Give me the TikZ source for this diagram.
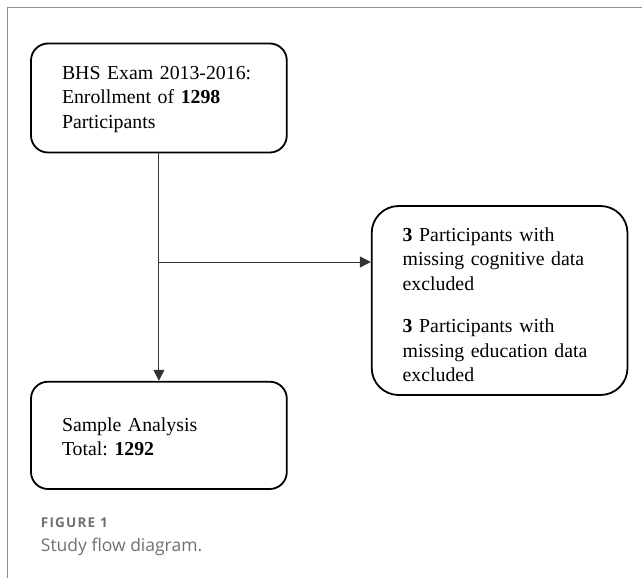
\documentclass[tikz,border=0pt]{standalone}
\usepackage{fontspec}
\setmainfont{Liberation Serif}
\newfontfamily\capfont{Open Sans}
\newfontfamily\capfontsp[LetterSpace=9]{Open Sans}
\usetikzlibrary{arrows.meta}
\definecolor{framegray}{HTML}{8C8C8C}
\definecolor{capgray}{HTML}{707070}
\definecolor{conngray}{HTML}{333333}
\begin{document}
\frenchspacing
\begin{tikzpicture}[x=1pt,y=-1pt,
  box/.style={draw=black, line width=1.8pt, rounded corners=17pt,
    minimum width=255.8pt, minimum height=#1, text width=193.8pt,
    inner xsep=31pt, inner ysep=0pt, align=left,
    font=\fontsize{19.8pt}{24.6pt}\selectfont\frenchspacing},
  conn/.style={draw=conngray, line width=1pt,
    -{Triangle[length=11pt,width=11pt]}},
  frameline/.style={draw=framegray, line width=1.5pt},
  captext/.style={inner sep=0pt, anchor=base west, text=capgray}]
\useasboundingbox (0,0) rectangle (642,578);
\draw[frameline] (642,7.3) -- (7.5,7.3) -- (7.5,578);
\node[box=109pt] (b1) at (158.9,98)
  {\rule{0pt}{16.6pt}BHS Exam 2013-2016:\\ Enrollment of \textbf{1298}\\ Participants\rule[-5pt]{0pt}{5pt}};
\node[box=107.3pt] (b2) at (158.9,435.35)
  {\rule{0pt}{21.3pt}Sample Analysis\\ Total: \textbf{1292}\rule[-5pt]{0pt}{5pt}};
\node[box=189pt, rounded corners=27pt] (b3) at (499.6,300.5)
  {\rule{0pt}{27pt}\textbf{3} Participants with\\ missing cognitive data\\ excluded\\[17.4pt]
   \textbf{3} Participants with\\ missing education data\\ excluded\rule[-5pt]{0pt}{5pt}};
\coordinate (j) at (158.9,262);
\draw[conn] (b1.south) -- (b2.north);
\draw[conn] (j) -- (j -| b3.west);
\node[captext, font=\capfontsp\bfseries\fontsize{13.5pt}{15pt}\selectfont] (cap1) at (40.7,527) {FIGURE 1};
\node[captext, font=\capfont\fontsize{17.5pt}{20pt}\selectfont] (cap2) at (40.7,551.7) {Study flow diagram.};
\end{tikzpicture}
\end{document}
